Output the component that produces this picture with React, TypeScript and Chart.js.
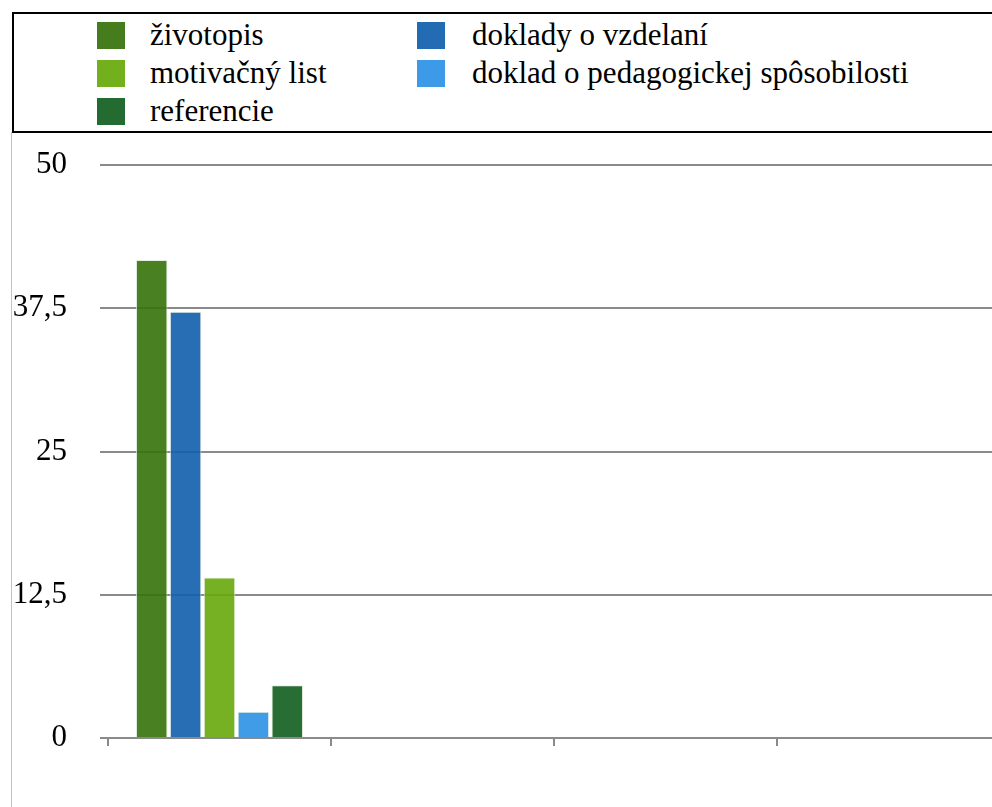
import React, { useEffect, useRef } from "react";
import { Chart, registerables } from "chart.js";

Chart.register(...registerables);

const categories = ["", "", "", ""];
const seriesNames = [
  "životopis",
  "doklady o vzdelaní",
  "motivačný list",
  "doklad o pedagogickej spôsobilosti",
  "referencie",
];
const zivotopis = [41.7, null, null, null];
const dokladyVzdelani = [37.2, null, null, null];
const motivacnyList = [14.0, null, null, null];
const dokladPedagogicka = [2.3, null, null, null];
const referencie = [4.6, null, null, null];
const yTicks = [0, 12.5, 25, 37.5, 50];

const barColors = [
  "rgba(53,114,10,0.9)",
  "rgba(16,94,172,0.9)",
  "rgba(102,169,10,0.9)",
  "rgba(44,145,230,0.9)",
  "rgba(17,94,30,0.9)",
];
const swatchColors = ["#457d1e", "#236bb3", "#72b01e", "#3d9ae8", "#246b30"];

const FONT = "Liberation Serif";

export default function App() {
  const ref = useRef<HTMLCanvasElement | null>(null);

  useEffect(() => {
    document.body.style.margin = "0";
    const ctx = ref.current;
    if (!ctx) return;
    const series = [zivotopis, dokladyVzdelani, motivacnyList, dokladPedagogicka, referencie];
    const chart = new Chart(ctx, {
      type: "bar",
      data: {
        labels: categories,
        datasets: series.map((d, i) => ({
          label: seriesNames[i],
          data: d,
          backgroundColor: barColors[i],
          borderColor: "rgba(225,235,220,0.8)",
          borderWidth: 1,
          categoryPercentage: 0.76,
          barPercentage: 0.93,
        })),
      },
      options: {
        responsive: false,
        animation: false,
        devicePixelRatio: 1,
        layout: { padding: { top: 165, right: 10, left: 0, bottom: 0 } },
        plugins: {
          legend: { display: false },
          tooltip: { enabled: false },
        },
        scales: {
          x: {
            grid: {
              display: true,
              drawOnChartArea: false,
              drawTicks: true,
              tickLength: 8,
              color: "#8a8a8a",
              lineWidth: 2,
            },
            border: { display: false },
            ticks: { display: true, font: { family: FONT, size: 31 } },
            afterFit: (scale: any) => {
              scale.height = 69;
            },
          },
          y: {
            min: 0,
            max: 50,
            afterBuildTicks: (scale: any) => {
              scale.ticks = yTicks.map((v) => ({ value: v }));
            },
            grid: {
              color: "#8a8a8a",
              lineWidth: 2,
              drawTicks: true,
              tickLength: 8,
            },
            border: { display: false },
            ticks: {
              color: "#000",
              padding: 33,
              font: { family: FONT, size: 31 },
              callback: (v: any) => String(v).replace(".", ","),
            },
            afterFit: (scale: any) => {
              scale.width = 108;
            },
          },
        },
      },
    });
    return () => chart.destroy();
  }, []);

  const rows = [
    [0, 1],
    [2, 3],
    [4],
  ];

  return (
    <div
      style={{
        position: "fixed",
        left: 0,
        top: 0,
        width: 992,
        height: 807,
        overflow: "hidden",
        background: "#fff",
        fontFamily: FONT,
      }}
    >
      <canvas
        ref={ref}
        width={1010}
        height={807}
        style={{ position: "absolute", left: 0, top: 0, width: 1010, height: 807 }}
      />
      <div
        style={{
          position: "absolute",
          left: 11,
          top: 132,
          width: 1,
          height: 700,
          background: "#c4c4c4",
        }}
      />
      <div
        style={{
          position: "absolute",
          left: 12,
          top: 12,
          width: 1100,
          height: 121,
          border: "2px solid #000",
          boxSizing: "border-box",
          background: "#fff",
        }}
      />
      {rows.map((row, r) =>
        row.map((idx, c) => (
          <div
            key={idx}
            style={{
              position: "absolute",
              left: c === 0 ? 97 : 417,
              top: 16 + r * 38,
              height: 38,
              display: "flex",
              alignItems: "center",
              whiteSpace: "nowrap",
            }}
          >
            <div
              style={{
                width: 28,
                height: 27,
                background: swatchColors[idx],
                marginRight: c === 0 ? 25 : 27,
                flex: "none",
              }}
            />
            <span style={{ fontSize: 31, lineHeight: "38px", color: "#000", fontFamily: FONT }}>
              {seriesNames[idx]}
            </span>
          </div>
        ))
      )}
    </div>
  );
}
